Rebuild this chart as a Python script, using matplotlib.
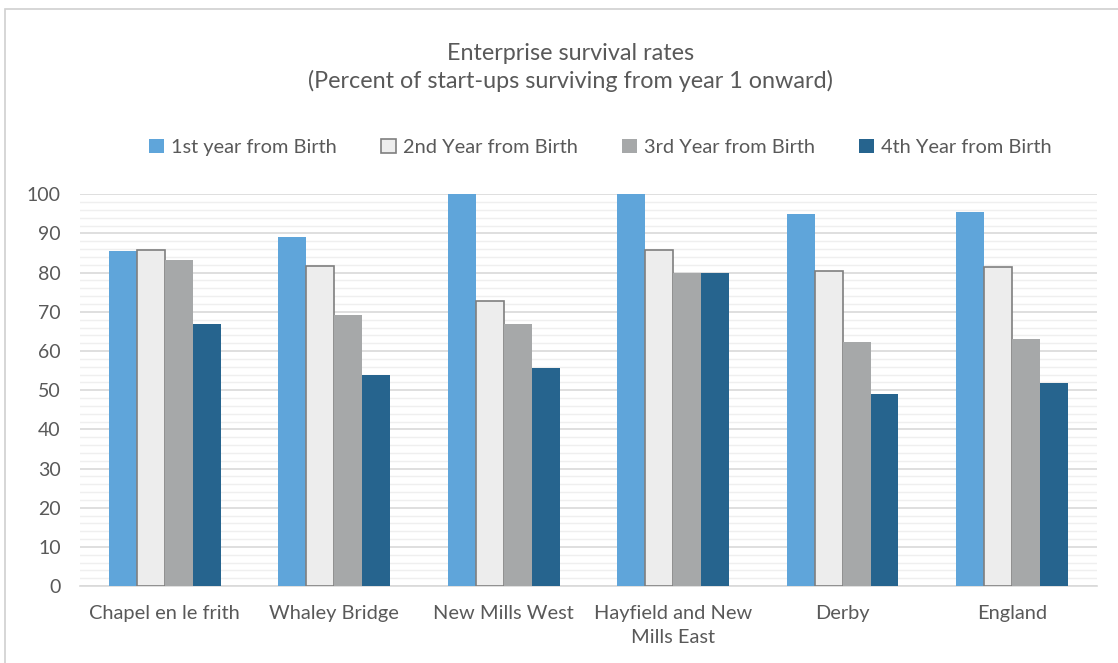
import numpy as np
import matplotlib.pyplot as plt
from matplotlib.patches import Rectangle

# data
areas = ['Chapel en le frith', 'Whaley Bridge', 'New Mills West',
         'Hayfield and New\nMills East', 'Derby', 'England']
year1 = [85.6, 89.0, 100.0, 100.0, 95.1, 95.5]
year2 = [85.9, 81.7, 72.7, 85.9, 80.3, 81.4]
year3 = [83.3, 69.1, 66.9, 80.0, 62.4, 63.1]
year4 = [66.9, 53.9, 55.6, 80.0, 48.9, 51.9]
series_names = ['1st year from Birth', '2nd Year from Birth',
                '3rd Year from Birth', '4th Year from Birth']

text_col = '#595959'
plt.rcParams['font.family'] = ['Lato', 'DejaVu Sans']

fig = plt.figure(figsize=(11.18, 6.63), dpi=100)
ax = fig.add_axes([0.0716, 0.1161, 0.9094, 0.5908])

# light frame round the whole chart
fig.patches.append(Rectangle((5 / 1118, -0.01), 1.02, 1 - 9 / 663 + 0.01,
                             transform=fig.transFigure, fill=False,
                             edgecolor='#D0D0D0', linewidth=1.2))

x = np.arange(len(areas))
w = 0.165
styles = [
    dict(color='#5FA5DA'),
    dict(color='#EDEDED', edgecolor='#7F7F7F', linewidth=1.2),
    dict(color='#A6A8A9'),
    dict(color='#26648E'),
]
for i, (vals, st) in enumerate(zip([year1, year2, year3, year4], styles)):
    ax.bar(x + (i - 1.5) * w, vals, width=w, label=series_names[i], zorder=3, **st)

ax.set_xlim(-0.5, len(areas) - 0.5)
ax.set_ylim(0, 100)
ax.set_yticks(np.arange(0, 101, 10))
ax.set_yticks(np.arange(0, 101, 2), minor=True)
ax.set_xticks(x)
ax.set_xticklabels(areas, linespacing=1.45)
ax.grid(axis='y', which='major', color='#D9D9D9', linewidth=1.2, zorder=0)
ax.grid(axis='y', which='minor', color='#EFEFEF', linewidth=1.0, zorder=0)
ax.tick_params(axis='both', which='both', length=0, colors=text_col)
ax.tick_params(axis='y', pad=14, labelsize=14)
ax.tick_params(axis='x', pad=14, labelsize=14.4)
for s in ['top', 'right', 'left']:
    ax.spines[s].set_visible(False)
ax.spines['bottom'].set_color('#D9D9D9')
ax.spines['bottom'].set_linewidth(1.2)

fig.text(0.51, 0.898, 'Enterprise survival rates\n(Percent of start-ups surviving from year 1 onward)',
         ha='center', va='center', fontsize=16.8, color=text_col, linespacing=1.3)

fig.legend(loc='center', bbox_to_anchor=(0.537, 0.778), ncol=4, frameon=False,
           fontsize=14.4, labelcolor=text_col, handlelength=0.75, handleheight=0.75,
           handletextpad=0.35, columnspacing=2.2)

fig.savefig('out.png', dpi=100, facecolor='white')
